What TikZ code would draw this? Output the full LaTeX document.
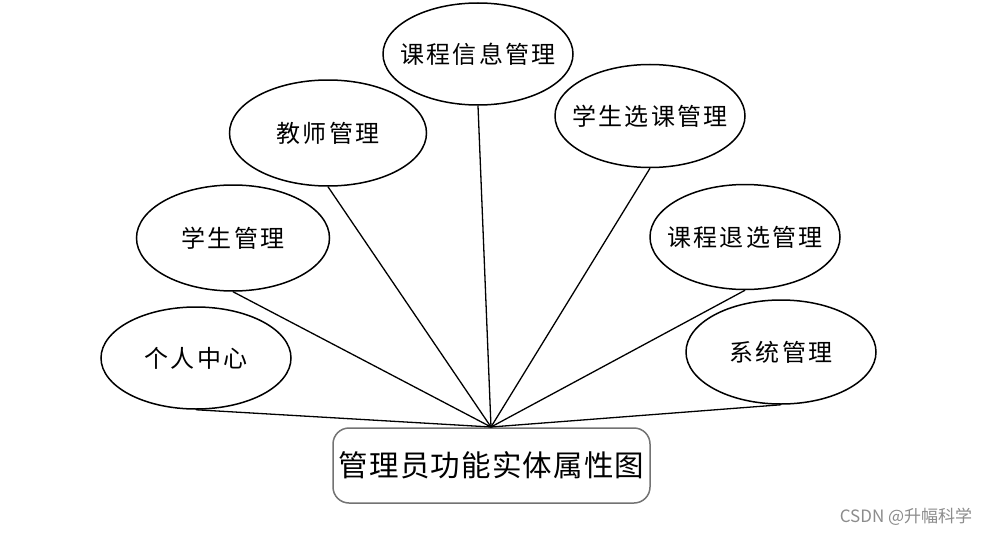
\documentclass[tikz,border=0pt]{standalone}
\usepackage{fontspec}
\newfontfamily\cjk[LetterSpace=9]{Noto Sans CJK SC}
\newfontfamily\cjkmain[LetterSpace=4]{Noto Sans CJK SC}
\newfontfamily\cjkwm{Noto Sans CJK SC}
\usetikzlibrary{shapes.geometric}
\newcommand{\zw}[1]{\makebox[0pt][c]{#1}}
\begin{document}
\begin{tikzpicture}[x=1pt,y=-1pt,
  attr/.style={ellipse,draw=black,line width=1.5pt,minimum width=190pt,minimum height=102pt,inner sep=0pt,font=\cjk\fontsize{24}{26}\selectfont},
  mainbox/.style={rectangle,rounded corners=16pt,draw=black!55,line width=1.5pt,minimum width=317pt,minimum height=75pt,inner sep=0pt,font=\cjkmain\fontsize{29.5}{34}\selectfont},
  link/.style={draw=black,line width=1.3pt}]
\useasboundingbox (0,0) rectangle (990,535);
\fill[white] (0,0) rectangle (990,535);
\node[mainbox] (m) at (491.5,465.5) {\zw{管理员功能实体属性图}};
\coordinate (hub) at (491,427);
\node[attr] (a1) at (196,358) {\zw{个人中心}};
\node[attr,minimum width=193pt,minimum height=106pt] (a2) at (233,238) {\zw{学生管理}};
\node[attr,minimum width=197pt,minimum height=106pt] (a3) at (328,133) {\zw{教师管理}};
\node[attr] (a4) at (478,54) {\zw{课程信息管理}};
\node[attr,minimum height=103pt] (a5) at (650,116) {\zw{学生选课管理}};
\node[attr,minimum height=105pt] (a6) at (745,237) {\zw{课程退选管理}};
\node[attr,minimum height=104pt] (a7) at (781,352) {\zw{系统管理}};
\foreach \n in {a1,a2,a3,a4,a5,a6,a7} \draw[link] (\n.south) -- (hub);
\node[text=black!45,font=\cjkwm\fontsize{17}{19}\selectfont] (wm) at (906,517) {CSDN @升幅科学};
\end{tikzpicture}
\end{document}
